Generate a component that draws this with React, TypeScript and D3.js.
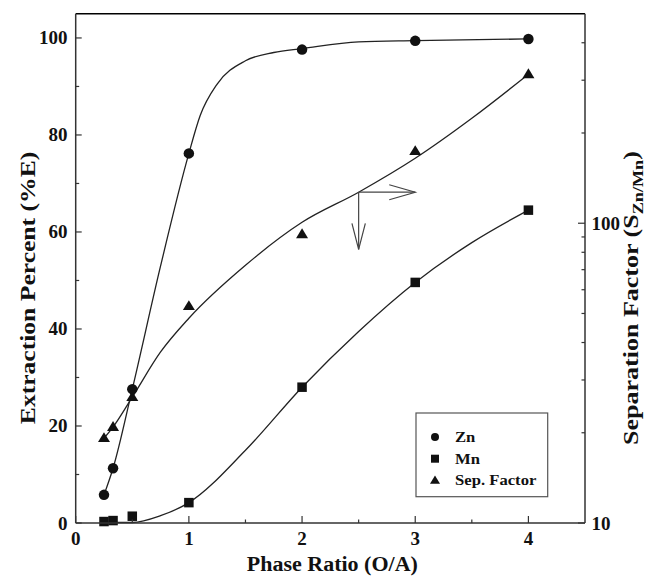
import React from "react";
import * as d3 from "d3";

// ---- data ----
const phaseRatio = [0.25, 0.33, 0.5, 1, 2, 3, 4];
const znExtraction = [5.8, 11.3, 27.6, 76.2, 97.6, 99.4, 99.8];
const mnExtraction = [0.3, 0.5, 1.4, 4.2, 28.0, 49.6, 64.5];
const sepFactor = [19.2, 20.9, 26.3, 52.9, 91.9, 174, 314];

// smooth fitted curves
const znFitX = [0.25, 0.33, 0.5, 0.75, 1, 1.1, 1.25, 1.5, 1.75, 2, 2.5, 3, 4];
const znFitY = [5.8, 11.3, 27.6, 53, 76.2, 84, 90.5, 95.3, 97.0, 97.8, 99.2, 99.45, 99.8];
const mnFitX = [0.25, 0.5, 0.75, 1, 1.5, 2, 2.5, 3, 3.5, 4];
const mnFitY = [0.1, 0.1, 1.5, 4.2, 15, 28, 39.5, 49.6, 57.8, 64.5];
const sepFitX = [0.25, 0.33, 0.5, 0.75, 1, 1.5, 2, 2.5, 3, 3.5, 4];
const sepFitY = [19.2, 20.9, 26.3, 37.2, 48.2, 72.4, 100.7, 126.9, 164.7, 223.9, 314];

const xMajor = [0, 1, 2, 3, 4];
const xMinor = [0.5, 1.5, 2.5, 3.5];
const yMajor = [0, 20, 40, 60, 80, 100];
const yMinor = [10, 30, 50, 70, 90];
const rDomain = [10, 500];
const rMajor = [10, 100];
const rMinor = [20, 30, 40, 50, 60, 70, 80, 90, 200, 300, 400];

const arrowX = [2.5, 3.0];
const arrowDownTo = 56.4;

const legendItems = ["Zn", "Mn", "Sep. Factor"];

const W = 650, H = 580;
const L = 75.7, R = 585, T = 13.7, B = 523;
const FONT = "'Liberation Serif', 'Times New Roman', serif";
const INK = "#111";
const AX = "#333";

function Marker({ kind, x, y, s }: { kind: string; x: number; y: number; s: number }) {
  if (kind === "circle") return <circle cx={x} cy={y} r={s / 2} fill={INK} />;
  if (kind === "square") return <rect x={x - s / 2} y={y - s / 2} width={s} height={s} fill={INK} />;
  const h = s * 0.9;
  return (
    <path
      d={`M${x},${y - h * 0.6}L${x + s / 2 + 0.5},${y + h * 0.4}L${x - s / 2 - 0.5},${y + h * 0.4}Z`}
      fill={INK}
    />
  );
}

export default function App() {
  const x = d3.scaleLinear().domain([0, 4.5]).range([L, R]);
  const y = d3.scaleLinear().domain([0, 105]).range([B, T]);
  const yr = d3.scaleLog().domain(rDomain).range([B, T]);

  const lineL = d3
    .line<[number, number]>()
    .x((d) => x(d[0]))
    .y((d) => y(d[1]))
    .curve(d3.curveMonotoneX);
  const lineR = d3
    .line<[number, number]>()
    .x((d) => x(d[0]))
    .y((d) => yr(d[1]))
    .curve(d3.curveMonotoneX);

  const zip = (a: number[], b: number[]) => a.map((v, i) => [v, b[i]] as [number, number]);

  const ax0 = x(arrowX[0]);
  const ax1 = x(arrowX[1]);
  const ay0 = yr(sepFitY[sepFitX.indexOf(arrowX[0])]);
  const ay1 = y(arrowDownTo);

  const tickFont = { fontFamily: FONT, fontWeight: 700, fontSize: 19, fill: INK };
  const titleFont = { fontFamily: FONT, fontWeight: 700, fontSize: 20, fill: INK };

  return (
    <svg width={W} height={H} style={{ position: "absolute", left: 0, top: 0, background: "#fff" }}>
      {/* curves */}
      <g fill="none" stroke="#222" strokeWidth={1.3}>
        <path d={lineL(zip(znFitX, znFitY)) || ""} />
        <path d={lineL(zip(mnFitX, mnFitY)) || ""} />
        <path d={lineR(zip(sepFitX, sepFitY)) || ""} />
      </g>

      {/* arrows */}
      <g fill="none" stroke="#444" strokeWidth={1.2}>
        <line x1={ax0} y1={ay0} x2={ax1} y2={ay0} />
        <polyline points={`${ax1 - 26},${ay0 - 7.5} ${ax1},${ay0} ${ax1 - 26},${ay0 + 7.5}`} />
        <line x1={ax0} y1={ay0} x2={ax0} y2={ay1} />
        <polyline points={`${ax0 - 6.7},${ay1 - 26} ${ax0},${ay1} ${ax0 + 6.7},${ay1 - 26}`} />
      </g>

      {/* markers */}
      {phaseRatio.map((p, i) => (
        <Marker key={"s" + i} kind="triangle" x={x(p)} y={yr(sepFactor[i])} s={11} />
      ))}
      {phaseRatio.map((p, i) => (
        <Marker key={"z" + i} kind="circle" x={x(p)} y={y(znExtraction[i])} s={10.5} />
      ))}
      {phaseRatio.map((p, i) => (
        <Marker key={"m" + i} kind="square" x={x(p)} y={y(mnExtraction[i])} s={9.5} />
      ))}

      {/* frame */}
      <line x1={L} y1={T} x2={R} y2={T} stroke="#000" strokeWidth={1.5} />
      <line x1={L} y1={T} x2={L} y2={B} stroke={AX} strokeWidth={1.5} />
      <line x1={R} y1={T} x2={R} y2={B} stroke={AX} strokeWidth={1.5} />
      <line x1={L} y1={B} x2={R} y2={B} stroke={AX} strokeWidth={1.5} />

      {/* x ticks */}
      {xMajor.map((v) => (
        <g key={"xm" + v}>
          <line x1={x(v)} x2={x(v)} y1={B} y2={B - 7} stroke={AX} strokeWidth={1.2} />
          <text x={x(v)} y={545} textAnchor="middle" {...tickFont}>
            {v}
          </text>
        </g>
      ))}
      {xMinor.map((v) => (
        <line key={"xn" + v} x1={x(v)} x2={x(v)} y1={B} y2={B - 3.5} stroke={AX} strokeWidth={1.2} />
      ))}

      {/* left ticks */}
      {yMajor.map((v) => (
        <g key={"ym" + v}>
          <line x1={L} x2={L + 6} y1={y(v)} y2={y(v)} stroke={AX} strokeWidth={1.2} />
          <text x={67.5} y={y(v) + 6.5} textAnchor="end" {...tickFont}>
            {v}
          </text>
        </g>
      ))}
      {yMinor.map((v) => (
        <line key={"yn" + v} x1={L} x2={L + 3.5} y1={y(v)} y2={y(v)} stroke={AX} strokeWidth={1.2} />
      ))}

      {/* right ticks */}
      {rMajor.map((v) => (
        <g key={"rm" + v}>
          <line x1={R} x2={R - 7} y1={yr(v)} y2={yr(v)} stroke={AX} strokeWidth={1.2} />
          <text x={591.5} y={yr(v) + 6.5} textAnchor="start" {...tickFont}>
            {v}
          </text>
        </g>
      ))}
      {rMinor.map((v) => (
        <line key={"rn" + v} x1={R} x2={R - 3.5} y1={yr(v)} y2={yr(v)} stroke={AX} strokeWidth={1.2} />
      ))}

      {/* axis titles */}
      <g transform={`translate(${(L + R) / 2 + 2},571) scale(1.1,1)`}>
        <text x={0} y={0} textAnchor="middle" {...titleFont}>
          Phase Ratio (O/A)
        </text>
      </g>
      <g transform={`translate(35,288) rotate(-90) scale(1.28,1)`}>
        <text x={0} y={0} textAnchor="middle" {...titleFont}>
          Extraction Percent (%E)
        </text>
      </g>
      <g transform={`translate(638,298) rotate(-90) scale(1.3,1)`}>
        <text x={0} y={0} textAnchor="middle" {...titleFont}>
          Separation Factor (S
          <tspan fontSize={14} dy={5}>
            Zn/Mn
          </tspan>
          <tspan dy={-5}>)</tspan>
        </text>
      </g>

      {/* legend */}
      <rect x={416} y={413} width={131.7} height={83.7} fill="#fff" stroke="#555" strokeWidth={1.2} />
      {legendItems.map((name, i) => {
        const ly = 437 + i * 21.7;
        const kind = i === 0 ? "circle" : i === 1 ? "square" : "triangle";
        return (
          <g key={name}>
            <Marker kind={kind} x={435} y={ly} s={kind === "triangle" ? 9 : 8} />
            <g transform={`translate(455,${ly + 5}) scale(1.19,1)`}>
              <text x={0} y={0} fontFamily={FONT} fontWeight={700} fontSize={14} fill={INK}>
                {name}
              </text>
            </g>
          </g>
        );
      })}
    </svg>
  );
}
